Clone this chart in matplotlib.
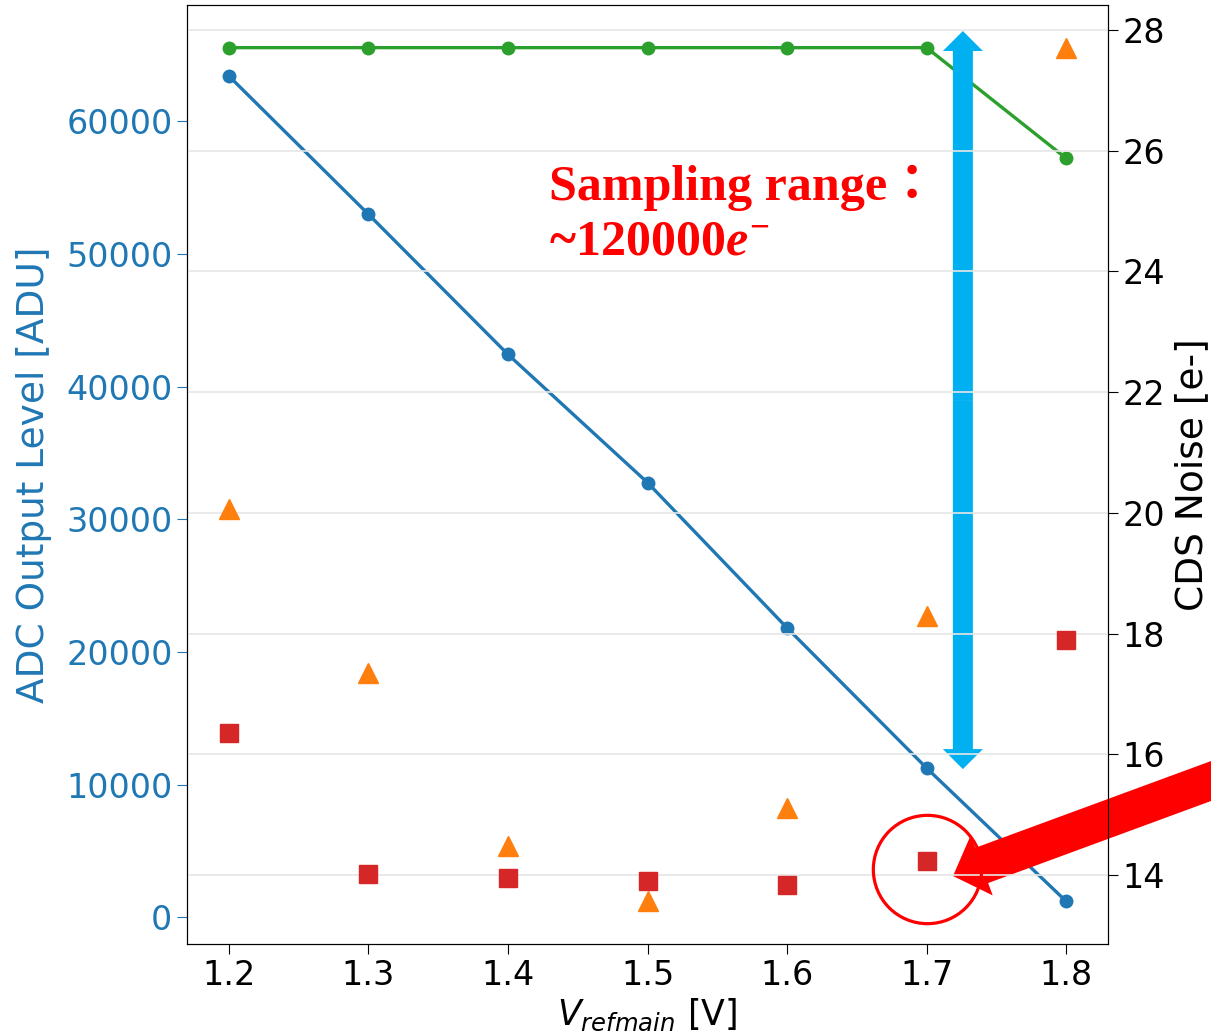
import matplotlib
matplotlib.use("Agg")
import matplotlib.pyplot as plt

# ---- data ----
vref = [1.2, 1.3, 1.4, 1.5, 1.6, 1.7, 1.8]
adc_level = [63400, 52980, 42420, 32760, 21810, 11250, 1210]
adc_saturation = [65535, 65535, 65535, 65535, 65535, 65535, 57200]
noise_tri = [20.06, 17.34, 14.48, 13.57, 15.11, 18.29, 27.70]
noise_sq = [16.35, 14.02, 13.95, 13.90, 13.83, 14.23, 17.89]
xticks = [1.2, 1.3, 1.4, 1.5, 1.6, 1.7, 1.8]
left_ticks = [0, 10000, 20000, 30000, 40000, 50000, 60000]
right_ticks = [14, 16, 18, 20, 22, 24, 26, 28]

# annotation anchors
arrow_x = 1.726
arrow_top = 66790
arrow_bot = 11170
range_text = "Sampling range\uff1a\n~120000$e^{-}$"
circle_x, circle_y = 1.7, 14.1

plt.rcParams['mathtext.fontset'] = 'dejavusans'
plt.rcParams['mathtext.it'] = 'Liberation Serif:bold:italic'
plt.rcParams['mathtext.rm'] = 'Liberation Serif:bold'
plt.rcParams['mathtext.bf'] = 'Liberation Serif:bold'

fig = plt.figure(figsize=(12.11, 10.33), dpi=100)
ax = fig.add_axes([187/1211, 89/1033, (1108-187)/1211, (1028-89)/1033])
ax2 = ax.twinx()

ax.plot(vref, adc_saturation, '-o', color='#2ca02c', lw=2.4, ms=9, zorder=3)
ax.plot(vref, adc_level, '-o', color='#1f77b4', lw=2.4, ms=9, zorder=3)

ax2.plot(vref, noise_tri, '^', color='#ff7f0e', ms=15, ls='none')
ax2.plot(vref, noise_sq, 's', color='#d62728', ms=13, ls='none')
ax2.grid(True, color='#e6e6e6', lw=1.2)
ax2.set_axisbelow(True)

ax.set_xticks(xticks)
ax.set_yticks(left_ticks)
ax2.set_yticks(right_ticks)
ax.tick_params(axis='x', labelsize=24, length=7)
ax.tick_params(axis='y', labelsize=24, labelcolor='#1f77b4', color='#1f77b4', length=7)
ax2.tick_params(axis='y', labelsize=24, length=7)

ax.set_ylabel('ADC Output Level [ADU]', fontsize=27, color='#1f77b4', labelpad=10)
ax2.set_ylabel('CDS Noise [e-]', fontsize=27, color='k', labelpad=6)
ax.set_xlabel('$V_{refmain}$ [V]', fontsize=25, labelpad=4)

ax.set_xlim(1.17, 1.83)
ax.set_ylim(-2010, 68750)
ax2.set_ylim(12.86, 28.41)

# blue double arrow
mid = (arrow_top + arrow_bot) / 2
style = "simple,head_length=0.72,head_width=1.44,tail_width=0.72"
for end in (arrow_top, arrow_bot):
    ax.annotate('', xy=(arrow_x, end), xytext=(arrow_x, mid),
                arrowprops=dict(arrowstyle=style, color='#00b0f0', lw=0,
                                mutation_scale=20, shrinkA=0, shrinkB=0),
                zorder=5)

ax.text(1.4296, 56700, range_text, color='red', fontsize=36, fontweight='bold',
        family=['Liberation Serif', 'Noto Sans CJK JP'], va='top', ha='left',
        math_fontfamily='custom', linespacing=1.25, zorder=6)

# red circle
ax2.plot([circle_x], [circle_y], 'o', ms=78, mfc='none', mec='red', mew=2.3,
         zorder=6)

# big red arrow from outside the figure
ax.annotate('', xy=(953, 1033 - 876), xycoords='figure pixels',
            xytext=(1260, 1033 - 763), textcoords='figure pixels',
            arrowprops=dict(arrowstyle="simple,head_length=1.1,head_width=2.3,tail_width=1.35",
                            color='red', lw=0, mutation_scale=20,
                            shrinkA=0, shrinkB=0),
            annotation_clip=False, zorder=7)

fig.savefig('out.png', dpi=100)
